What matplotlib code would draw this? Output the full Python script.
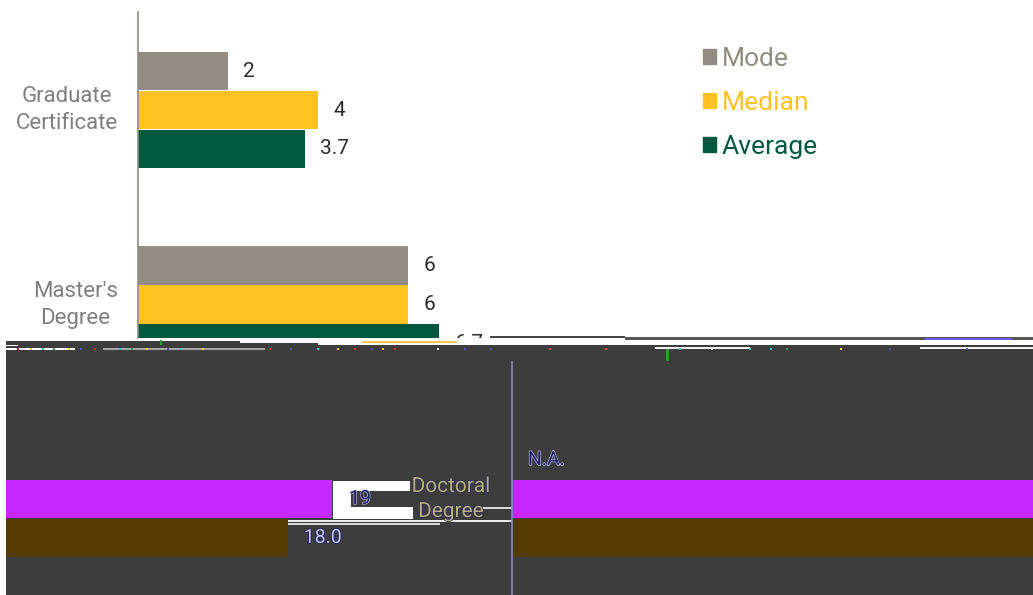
import numpy as np
import matplotlib
matplotlib.use("Agg")
import matplotlib.pyplot as plt
from matplotlib.patches import Patch, Rectangle
from matplotlib.transforms import ScaledTranslation
import matplotlib.patheffects as pe

categories = ["Graduate\nCertificate", "Master's\nDegree", "Doctoral\nDegree"]
series_names = ["Mode", "Median", "Average"]
mode_values = [2, 6]
median_values = [4, 6, 19]
average_values = [3.7, 6.7, 18.0]
mode_labels = ["2", "6"]
median_labels = ["4", "6", "19"]
average_labels = ["3.7", "6.7", "18.0"]
doctoral_mode_label = "N.A."

GREY, YELLOW, GREEN = "#918D83", "#FFC222", "#00593F"
MAGENTA, BROWN, DARK = "#C428FF", "#533B00", "#3D3D3D"
FONT = "Roboto"
W, H = 1033, 595
DPI = 100
plt.rcParams["font.family"] = FONT

fig = plt.figure(figsize=(W / DPI, H / DPI), dpi=DPI, facecolor="white")


def make_axes(x0, y0, x1, y1):
    return fig.add_axes([x0 / W, 1 - y1 / H, (x1 - x0) / W, (y1 - y0) / H])


def to_cat(p):
    return (p - 110) / 194.5


def lift_tick_labels(ax, pixels):
    shift = ScaledTranslation(0, pixels / DPI, fig.dpi_scale_trans)
    for t in ax.get_yticklabels():
        t.set_transform(t.get_transform() + shift)


# ---- damaged-image backdrop, in pixel coordinates ----
bg = make_axes(0, 0, W, H)
bg.set_xlim(0, W)
bg.set_ylim(H, 0)
bg.axis("off")


def rect(x0, y0, x1, y1, c, z=1):
    bg.add_patch(Rectangle((x0, y0), x1 - x0, y1 - y0, fc=c, ec="none", zorder=z))


rect(6, 345, W, H, DARK)
rect(6, 341, 240, 345, DARK)
rect(240, 343, 318, 345, DARK)
rect(6, 345, 18, 346, "white", 2)
rect(6, 348, 75, 350, "white", 2)
rect(103, 348, 265, 350, "#A8A8A8", 2)
rect(362, 341, 457, 343, "#FFC84A", 2)
rect(490, 336, 625, 338, "#484848", 2)
rect(625, 337, W, 340, "#555555", 2)
rect(925, 338, 1012, 340, "#6A5CF0", 2)
rect(655, 347, 750, 349, "#F4F4F4", 2)
rect(920, 347, W, 349, "#F4F4F4", 2)
rect(666, 349, 669, 361, "#2E9B3A", 2)
rect(160, 340, 162, 345, "#2E9B3A", 2)
# white shape beside the doctoral bars and thin stray lines
rect(333, 481, 410, 491, "white", 2)
rect(333, 507, 413, 519, "white", 2)
rect(333, 491, 351, 507, "white", 2)
rect(288, 520, 512, 522, "#EDEDED", 2)
rect(288, 523, 440, 525, "#D8D8D8", 2)
rect(483, 507, 512, 509, "#D8D8D8", 2)
dot_x = [18, 31, 43, 54, 69, 81, 95, 120, 132, 147, 168, 180, 203, 270, 291, 318, 338,
         355, 372, 383, 395, 438, 465, 491, 550, 606, 680, 712, 750, 771, 787, 841, 890, 967]
dot_c = ["#E02020", "#F0D030", "#28C8C8", "#30A060", "#E8D040", "#5050C0", "#E03030", "#28C8C8",
         "#30A060", "#E8D040", "#5050C0", "#28C8C8", "#F0D030", "#E03030", "#5050C0", "#28C8C8",
         "#F0D030", "#E03030", "#5050C0", "#F0D030", "#E03030", "#FFFFFF", "#5050C0", "#5050C0",
         "#E06060", "#E06060", "#28C8C8", "#FFFFFF", "#28C8C8", "#28C8C8", "#30A060", "#F0E060",
         "#5050C0", "#5050C0"]
bg.scatter(dot_x, [349] * len(dot_x), s=4, c=dot_c, marker="s", linewidths=0, zorder=3)

# ---- intact upper chart ----
OFF = 0.2
BAR_H = 38.7 / 194.5
LABEL_FS = 15
TICK_FS = 16
cats = np.arange(3)

top = make_axes(138, 0, W, 338)
top.patch.set_alpha(0)
top.set_xlim(0, (W - 138) / 45)
top.set_ylim(to_cat(338), to_cat(0))
c1 = top.barh(cats[:2] - OFF, mode_values, BAR_H, color=GREY)
c2 = top.barh(cats[:2], median_values[:2], BAR_H, color=YELLOW)
c3 = top.barh(cats[:2] + OFF, average_values[:2], BAR_H, color=GREEN)
for cont, labs in [(c1, mode_labels), (c2, median_labels[:2]), (c3, average_labels[:2])]:
    for t in top.bar_label(cont, labels=labs, padding=11, fontsize=LABEL_FS, color="#2B2B2B"):
        t.set_annotation_clip(False)
        t.set_clip_box(top.bbox)
        t.set_clip_on(True)
top.set_xticks([])
top.set_yticks(cats[:2], categories[:2], fontsize=TICK_FS, color="#7F7F7F", ma="center", linespacing=1.35)
top.tick_params(axis="y", length=0, pad=14.5)
lift_tick_labels(top, 5)
for s in ["top", "right", "bottom"]:
    top.spines[s].set_visible(False)
top.spines["left"].set_color(GREY)
top.spines["left"].set_linewidth(1.2)
top.spines["left"].set_bounds(to_cat(338), to_cat(12))
leg = top.legend(
    [Patch(color=GREY), Patch(color=YELLOW), Patch(color=GREEN)], series_names,
    loc="upper left", bbox_to_anchor=((703 - 138) / (W - 138), 1 - 47 / 338),
    frameon=False, fontsize=19, labelcolor=[GREY, YELLOW, GREEN],
    handlelength=0.5, handleheight=0.5, handletextpad=0.2, labelspacing=0.76,
    borderpad=0, borderaxespad=0,
)

# ---- lower chart: the doctoral bars wrap round the picture ----
SCALE = 44.6
split = (W - 512) / SCALE
stroke_light = [pe.withStroke(linewidth=1.2, foreground="#1C1C6E")]
stroke_dark = [pe.withStroke(linewidth=1.0, foreground="#B8B8DC")]


def lower_axes(x0, x1, xlim):
    a = make_axes(x0, 345, x1, H)
    a.patch.set_alpha(0)
    a.set_xlim(*xlim)
    a.set_ylim(to_cat(H), to_cat(345))
    a.set_xticks([])
    a.set_yticks([])
    for s in a.spines.values():
        s.set_visible(False)
    return a


left = lower_axes(6, 512, (split, split + 506 / SCALE))
left.barh(cats[2], median_values[2], BAR_H, color=MAGENTA)
left.barh(cats[2] + OFF, average_values[2], BAR_H, color=BROWN)
left.annotate(median_labels[2], (median_values[2], cats[2]), xytext=(12, 0), textcoords="offset points",
              va="center", fontsize=LABEL_FS - 1, color="#1A1A66", path_effects=stroke_dark)
left.annotate(average_labels[2], (average_values[2], cats[2] + OFF), xytext=(11.5, 0), textcoords="offset points",
              va="center", fontsize=LABEL_FS - 1, color="#C8C8F0", path_effects=stroke_light)

right = lower_axes(512, W, (0, split))
right.barh(cats[2], median_values[2], BAR_H, color=MAGENTA)
right.barh(cats[2] + OFF, average_values[2], BAR_H, color=BROWN)
right.annotate(doctoral_mode_label, (0, cats[2] - OFF), xytext=(11.5, 0), textcoords="offset points",
               va="center", fontsize=LABEL_FS - 1, color="#1A1A66", path_effects=stroke_dark)
right.set_yticks([cats[2]], [categories[2]], fontsize=TICK_FS - 1, color="#B5AE85", ma="center", linespacing=1.4,
                 path_effects=[pe.withStroke(linewidth=1, foreground="#2A2A50")])
right.tick_params(axis="y", length=0, pad=15.5)
lift_tick_labels(right, 5)
right.spines["left"].set_visible(True)
right.spines["left"].set_color("#8C88B8")
right.spines["left"].set_linewidth(1.2)
right.spines["left"].set_bounds(to_cat(H), to_cat(362))

fig.savefig("out.png", dpi=DPI)
